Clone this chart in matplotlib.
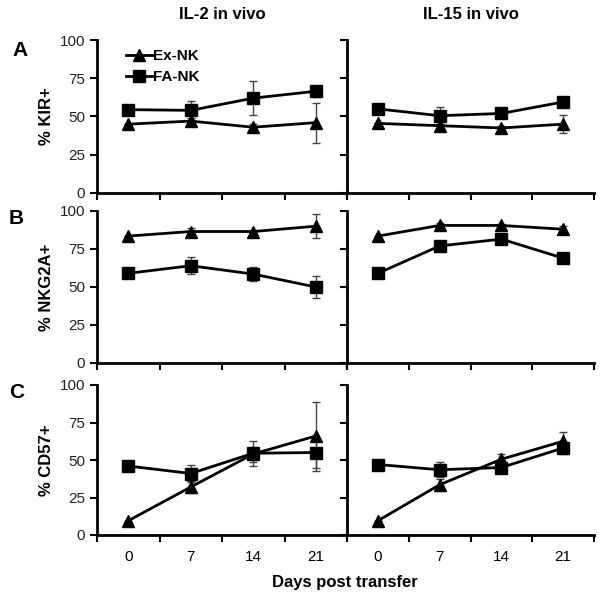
import numpy as np
import matplotlib.pyplot as plt
from matplotlib.lines import Line2D

plt.rcParams['font.family'] = ['Liberation Sans', 'DejaVu Sans']

days = ["0", "7", "14", "21"]
titles = ["IL-2 in vivo", "IL-15 in vivo"]
ylabels = ["% KIR+", "% NKG2A+", "% CD57+"]
letters = ["A", "B", "C"]

# [row][col] -> values / error
ex_nk = [[[45, 47, 43, 46], [45.5, 44, 42.5, 45]],
         [[83.5, 86.5, 86.5, 90], [83.5, 90.5, 90.5, 88]],
         [[9.5, 32, 54, 66], [9.5, 33.5, 50.5, 62.5]]]
ex_err = [[[0, 2, 2, 13], [0, 1, 1, 6]],
          [[0, 2.5, 1, 8], [0, 1.5, 1, 2]],
          [[0, 4, 5, 23], [0, 4, 3.5, 6.5]]]
fa_nk = [[[54.5, 54, 62, 66.5], [55, 50.5, 52, 59.5]],
         [[59, 64, 58.5, 50], [59, 77, 81.5, 69]],
         [[46, 41, 54.5, 55], [47, 43.5, 45, 58]]]
fa_err = [[[0, 6, 11, 3.5], [0, 6, 1, 1]],
          [[0, 5.5, 4.5, 7.5], [0, 2.5, 1.5, 1]],
          [[0, 5.5, 8.5, 10], [0, 5, 2, 4]]]

fig = plt.figure(figsize=(6.04, 6.01), dpi=100)
lefts = [97 / 604, 347 / 604]
widths = [250 / 604, 247 / 604]
tops = [40, 211, 385]
bots = [193, 363, 535]
letter_xy = [(20, 50), (16, 219), (17, 393)]

pos = np.arange(len(days)) + 0.5
for r in range(3):
    for c in range(2):
        ax = fig.add_axes([lefts[c], 1 - bots[r] / 601, widths[c], (bots[r] - tops[r]) / 601])
        ax.errorbar(pos, ex_nk[r][c], yerr=ex_err[r][c], color='black', lw=2,
                    marker='^', ms=9, ecolor='#444444', elinewidth=1, capsize=3,
                    capthick=1)
        ax.errorbar(pos, fa_nk[r][c], yerr=fa_err[r][c], color='black', lw=2,
                    marker='s', ms=9, ecolor='#444444', elinewidth=1, capsize=3,
                    capthick=1)
        ax.set_xlim(0, 4)
        ax.set_ylim(0, 100)
        ax.set_yticks([0, 25, 50, 75, 100])
        ax.set_xticks([0, 1, 2, 3, 4])
        ax.set_xticklabels([])
        ax.set_xticks(pos, minor=True)
        ax.tick_params(axis='x', which='minor', length=0, labelsize=11, pad=11)
        if r == 2:
            ax.set_xticklabels(days, minor=True)
        ax.tick_params(which='major', direction='out', length=5, width=1.5, labelsize=11, colors='black')
        ax.tick_params(axis='y', labelcolor='#222222')
        for s in ['top', 'right']:
            ax.spines[s].set_visible(False)
        for s in ['left', 'bottom']:
            ax.spines[s].set_linewidth(2)
        if c == 0:
            ax.set_ylabel(ylabels[r], fontsize=12, fontweight='bold', labelpad=4)
            lx, ly = letter_xy[r]
            fig.text(lx / 604, 1 - ly / 601, letters[r], fontsize=15,
                     fontweight='bold', ha='center', va='center')
        else:
            ax.set_yticklabels([])
        if r == 0:
            ax.set_title(titles[c], fontsize=12, fontweight='bold', pad=15)
        if r == 0 and c == 0:
            handles = [Line2D([], [], color='black', lw=2, marker='^', ms=9),
                       Line2D([], [], color='black', lw=2, marker='s', ms=9)]
            ax.legend(handles, ['Ex-NK', 'FA-NK'], loc='upper left',
                      bbox_to_anchor=(0.09, 0.98), frameon=False,
                      handlelength=1.8, handletextpad=0.0, borderaxespad=0,
                      labelspacing=0.45, prop={'size': 11, 'weight': 'bold'})

fig.text(345 / 604, 1 - 583 / 601, "Days post transfer", fontsize=12,
         fontweight='bold', ha='center', va='center')

fig.savefig("out.png", dpi=100)
